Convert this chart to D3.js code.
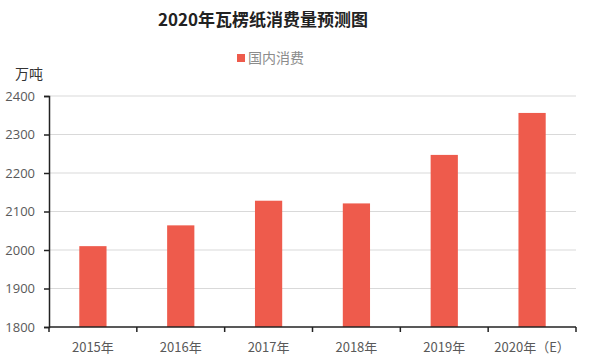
<!DOCTYPE html>
<html>
<head>
<meta charset="utf-8">
<script src="https://cdn.jsdelivr.net/npm/d3@7"></script>
<style>
  body { margin: 0; background: #fff; }
  text { font-family: "Noto Sans CJK SC", "Noto Sans", sans-serif; }
</style>
</head>
<body>
<div id="chart"></div>
<script>
// data
var years = ["2015年", "2016年", "2017年", "2018年", "2019年", "2020年（E）"];
var consumption = [2010, 2064, 2128, 2121, 2247, 2356];
var yTicks = [1800, 1900, 2000, 2100, 2200, 2300, 2400];

var width = 590, height = 364;
var margin = {top: 96, right: 14, bottom: 37, left: 49};

var svg = d3.select("#chart").append("svg")
    .attr("width", width)
    .attr("height", height);

var x = d3.scaleBand()
    .domain(years)
    .range([margin.left, width - margin.right])
    .paddingInner(0.69)
    .paddingOuter(0.345);

var y = d3.scaleLinear()
    .domain([1800, 2400])
    .range([height - margin.bottom, margin.top]);

// gridlines
svg.append("g")
    .selectAll("line")
    .data(yTicks.slice(1))
    .enter().append("line")
    .attr("x1", margin.left)
    .attr("x2", width - margin.right)
    .attr("y1", function (d) { return y(d); })
    .attr("y2", function (d) { return y(d); })
    .attr("stroke", "#d9d9d9")
    .attr("stroke-width", 1.2);

// bars
svg.append("g")
    .selectAll("rect")
    .data(consumption)
    .enter().append("rect")
    .attr("x", function (d, i) { return x(years[i]); })
    .attr("y", function (d) { return y(d); })
    .attr("width", x.bandwidth())
    .attr("height", function (d) { return y(1800) - y(d); })
    .attr("fill", "#ee5b4c");

// y axis
var yAxis = svg.append("g")
    .attr("transform", "translate(" + margin.left + ",0)")
    .call(d3.axisLeft(y).tickValues(yTicks).tickFormat(d3.format("d")).tickSize(5).tickPadding(9));
yAxis.select(".domain").attr("stroke", "#222").attr("stroke-width", 1.5);
yAxis.selectAll(".tick line").attr("stroke", "#222").attr("stroke-width", 1.5);
yAxis.selectAll("text").attr("fill", "#595959").style("font-size", "13px")
    .style("font-family", "'Open Sans', 'Noto Sans', sans-serif");

// x axis
var xBoundaries = d3.scalePoint()
    .domain(d3.range(years.length + 1))
    .range([margin.left, width - margin.right]);
var xAxisG = svg.append("g")
    .attr("transform", "translate(0," + y(1800) + ")");
xAxisG.append("line")
    .attr("x1", margin.left)
    .attr("x2", width - margin.right)
    .attr("stroke", "#222")
    .attr("stroke-width", 1.5);
xAxisG.selectAll("line.tk")
    .data(d3.range(years.length + 1))
    .enter().append("line")
    .attr("class", "tk")
    .attr("x1", function (d) { return xBoundaries(d); })
    .attr("x2", function (d) { return xBoundaries(d); })
    .attr("y1", 0)
    .attr("y2", 5)
    .attr("stroke", "#222")
    .attr("stroke-width", 1.5);
xAxisG.selectAll("text")
    .data(years)
    .enter().append("text")
    .attr("x", function (d) { return x(d) + x.bandwidth() / 2; })
    .attr("y", 25)
    .attr("text-anchor", "middle")
    .attr("fill", "#595959")
    .style("font-size", "13px")
    .text(function (d) { return d; });

// title
svg.append("text")
    .attr("x", 263)
    .attr("y", 26)
    .attr("text-anchor", "middle")
    .attr("fill", "#222")
    .style("font-size", "17px")
    .style("font-weight", "bold")
    .text("2020年瓦楞纸消费量预测图");

// legend
svg.append("rect")
    .attr("x", 237)
    .attr("y", 54)
    .attr("width", 8)
    .attr("height", 8)
    .attr("fill", "#ee5b4c");
svg.append("text")
    .attr("x", 248)
    .attr("y", 63)
    .attr("fill", "#8c8c8c")
    .style("font-size", "14px")
    .text("国内消费");

// unit label
svg.append("text")
    .attr("x", 15)
    .attr("y", 79)
    .attr("fill", "#333")
    .style("font-size", "14px")
    .text("万吨");
</script>
</body>
</html>
